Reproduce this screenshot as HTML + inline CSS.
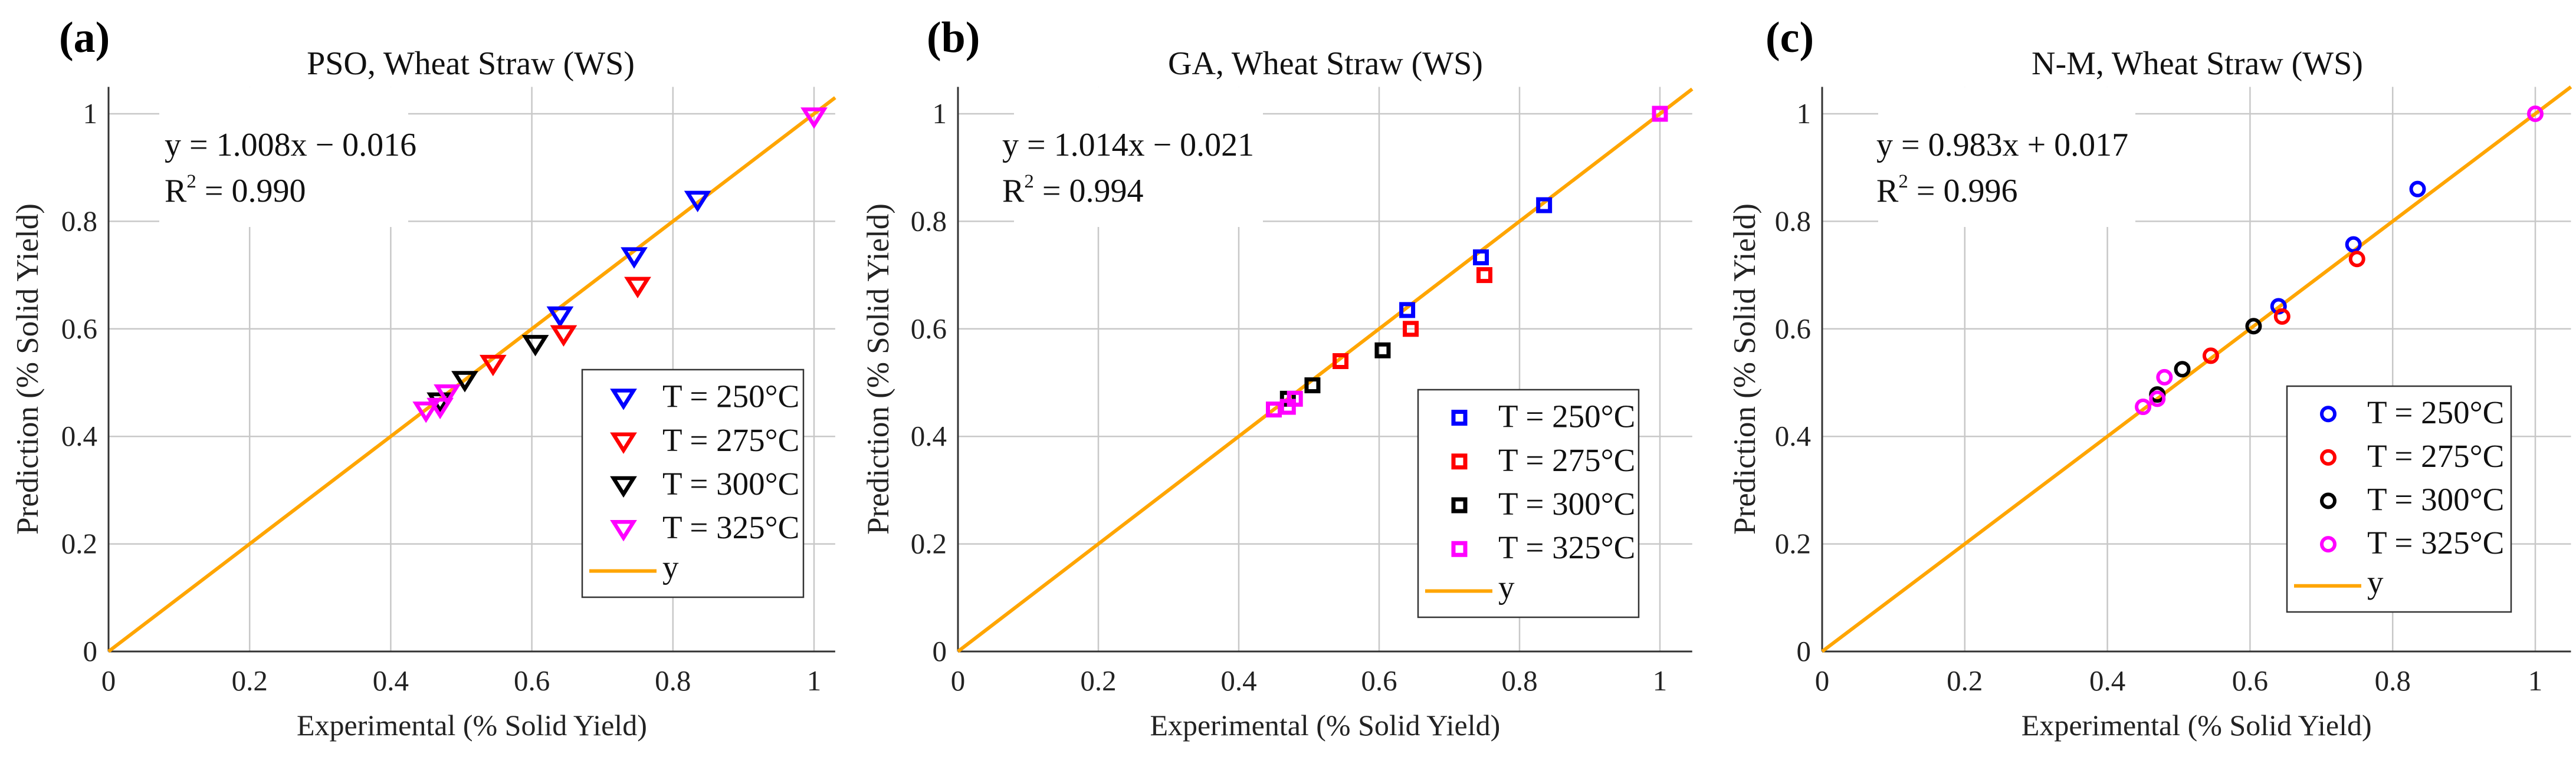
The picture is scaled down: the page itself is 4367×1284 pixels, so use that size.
<!DOCTYPE html>
<html><head><meta charset="utf-8"><style>
html,body{margin:0;padding:0;background:#fff;}
svg{display:block;font-family:"Liberation Serif",serif;}
</style></head><body>
<svg id="fig" width="4367" height="1284" viewBox="0 0 4367 1284" xmlns="http://www.w3.org/2000/svg"></svg>
<script>
// Data
const seriesLabels = ["T = 250°C","T = 275°C","T = 300°C","T = 325°C"];
const seriesColors = ["#0000ff","#ff0000","#000000","#ff00ff"];
const expX = [
  [0.835,0.745,0.64],
  [0.75,0.645,0.545],
  [0.605,0.505,0.47],
  [1.0,0.48,0.45,0.47]
];
const predPSO = [[0.84,0.735,0.625],[0.68,0.59,0.535],[0.572,0.505,0.465],[0.995,0.48,0.448,0.455]];
const predGA  = [[0.83,0.733,0.635],[0.70,0.60,0.54],[0.56,0.495,0.47],[1.0,0.47,0.45,0.455]];
const predNM  = [[0.86,0.757,0.642],[0.73,0.623,0.55],[0.605,0.525,0.478],[1.0,0.51,0.455,0.47]];
const tickVals = [0,0.2,0.4,0.6,0.8,1];
const tickLabels = ["0","0.2","0.4","0.6","0.8","1"];
const panelTitles = ["PSO, Wheat Straw (WS)","GA, Wheat Straw (WS)","N-M, Wheat Straw (WS)"];
const panelLetters = ["(a)","(b)","(c)"];
const eqTexts = ["y = 1.008x − 0.016","y = 1.014x − 0.021","y = 0.983x + 0.017"];
const r2Texts = [" = 0.990"," = 0.994"," = 0.996"];
const markerTypes = ["tri","sq","circ"];

const NS="http://www.w3.org/2000/svg";
const svg=document.getElementById('fig');
function mk(tag,attrs,parent){const e=document.createElementNS(NS,tag);for(const k in attrs)e.setAttribute(k,attrs[k]);(parent||svg).appendChild(e);return e;}

const layout=[
 {ox:184,span:1196,xmax:1.03,letterX:100,eqX:279,gap:[270,692],legend:[987,627,375,386],titleX:798,ylabX:46},
 {ox:1624,span:1190,xmax:1.046,letterX:1571,eqX:1699,gap:[1719,2141],legend:[2404,661,374,386],titleX:2247,ylabX:1488},
 {ox:3089,span:1209,xmax:1.05,letterX:2993,eqX:3181,gap:[3184,3620],legend:[3877,655,380,383],titleX:3725,ylabX:2957}
];
const preds=[predPSO,predGA,predNM];
const oy=1105, yspan=912, ymax=1.05;

function drawMarker(g,type,cx,cy,color){
  let m;
  if(type==="tri"){
    m=mk('polygon',{points:`${cx-17},${cy-12} ${cx+17},${cy-12} ${cx},${cy+15}`,fill:'none',stroke:color,'stroke-width':6.5,'stroke-linejoin':'miter'},g);
  }else if(type==="sq"){
    m=mk('rect',{x:cx-10,y:cy-10,width:20,height:20,fill:'none',stroke:color,'stroke-width':7},g);
  }else{
    m=mk('circle',{cx:cx,cy:cy,r:11,fill:'none',stroke:color,'stroke-width':6},g);
  }
  return m;
}

layout.forEach((L,p)=>{
  const g=mk('g',{});
  
  
  const X=v=>L.ox+v*L.span;
  const Y=v=>oy-v*yspan;
  const right=X(L.xmax), top=Y(ymax);
  tickVals.forEach(v=>{
    if(v>0){
      const gl=mk('line',{x1:X(v),x2:X(v),y1:top,y2:oy,stroke:'#c8c8c8','stroke-width':2.5},g);
      
      
      const hl=mk('line',{x1:L.ox,x2:right,y1:Y(v),y2:Y(v),stroke:'#c8c8c8','stroke-width':2.5},g);
      
      
    }
  });
  const wb=mk('rect',{x:L.gap[0],y:top,width:L.gap[1]-L.gap[0],height:385-top,fill:'#fff'},g);
  
  
  const xa=mk('line',{x1:L.ox,x2:right,y1:oy,y2:oy,stroke:'#333','stroke-width':3},g);
  
  
  const ya=mk('line',{x1:L.ox,x2:L.ox,y1:top,y2:oy,stroke:'#333','stroke-width':3},g);
  
  
  tickVals.forEach((v,i)=>{
    const tx=mk('text',{x:X(v),y:1171,'font-size':49,'text-anchor':'middle',fill:'#222'},g);
    tx.textContent=tickLabels[i];
    
    
    const ty=mk('text',{x:L.ox-19,y:Y(v)+16,'font-size':49,'text-anchor':'end',fill:'#222'},g);
    ty.textContent=tickLabels[i];
    
    
  });
  const fl=mk('line',{x1:X(0),y1:Y(0),x2:right,y2:Y(L.xmax),stroke:'#ffa500','stroke-width':6},g);
  
  
  seriesLabels.forEach((s,si)=>{
    expX[si].forEach((xv,k)=>{
      const m=drawMarker(g,markerTypes[p],X(xv),Y(preds[p][si][k]),seriesColors[si]);
      
      
    });
  });
  const lt=mk('text',{x:L.letterX,y:88,'font-size':74,'font-weight':'bold',fill:'#000'},g);
  lt.textContent=panelLetters[p];
  
  
  const tt=mk('text',{x:L.titleX,y:126,'font-size':56,'text-anchor':'middle',fill:'#111'},g);
  tt.textContent=panelTitles[p];
  
  
  const xl=mk('text',{x:(L.ox+right)/2,y:1247,'font-size':50,'text-anchor':'middle',fill:'#222'},g);
  xl.textContent="Experimental (% Solid Yield)";
  
  
  const yl=mk('text',{x:0,y:0,'font-size':53,'text-anchor':'middle',fill:'#222',transform:`translate(${L.ylabX+18},626) rotate(-90)`},g);
  yl.textContent="Prediction (% Solid Yield)";
  
  
  const eq=mk('text',{x:L.eqX,y:264,'font-size':56,fill:'#111'},g);
  eq.textContent=eqTexts[p];
  
  
  const r2=mk('text',{x:L.eqX,y:342,'font-size':56,fill:'#111'},g);
  r2.innerHTML='R<tspan dy="-24" font-size="33">2</tspan><tspan dy="24">'+r2Texts[p]+'</tspan>';
  
  
  const [lx,ly,lw,lh]=L.legend;
  const lg=mk('g',{},g);
  
  
  mk('rect',{x:lx,y:ly,width:lw,height:lh,fill:'#fff',stroke:'#333','stroke-width':2.5},lg);
  const step=lh/5.2;
  seriesLabels.forEach((s,si)=>{
    const cy=ly+step*0.6+si*step;
    const ent=mk('g',{},lg);
    
    
    drawMarker(ent,markerTypes[p],lx+70,cy+3,seriesColors[si]);
    const t=mk('text',{x:lx+136,y:cy+19,'font-size':55,fill:'#111'},ent);
    t.textContent=s;
  });
  const cy=ly+step*0.6+4*step;
  const ent=mk('g',{},lg);
  
  
  mk('line',{x1:lx+12,x2:lx+126,y1:cy,y2:cy,stroke:'#ffa500','stroke-width':6},ent);
  const t=mk('text',{x:lx+136,y:cy+12,'font-size':55,fill:'#111'},ent);
  t.textContent="y";
});
</script>
</body></html>
